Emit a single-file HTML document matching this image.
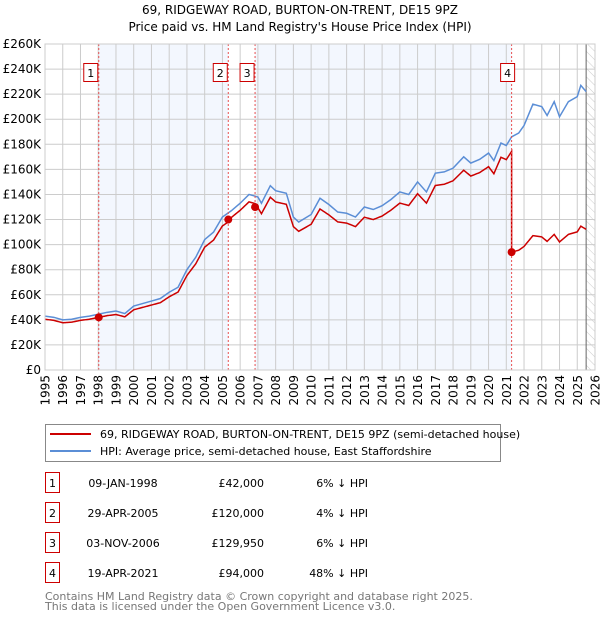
<!DOCTYPE html>
<html><head><meta charset="utf-8"><style>
body{margin:0;background:#fff;font-family:"DejaVu Sans","Liberation Sans",sans-serif;}
svg text{font-family:"DejaVu Sans","Liberation Sans",sans-serif;}
</style></head><body>
<svg id="c" width="600" height="620" xmlns="http://www.w3.org/2000/svg">
<defs><pattern id="hatch" width="6" height="6" patternUnits="userSpaceOnUse" patternTransform="rotate(-45)"><line x1="0" y1="0" x2="0" y2="6" stroke="#ccc" stroke-width="1"/></pattern></defs>
<text x="300" y="14" text-anchor="middle" font-size="12">69, RIDGEWAY ROAD, BURTON-ON-TRENT, DE15 9PZ</text>
<text x="300" y="31" text-anchor="middle" font-size="12">Price paid vs. HM Land Registry's House Price Index (HPI)</text>
<g id="plot"></g>
<g>
<rect x="45.5" y="424.5" width="455" height="37" fill="#fff" stroke="#888"/>
<line x1="50" y1="434" x2="91" y2="434" stroke="#cc0000" stroke-width="2"/>
<text x="100" y="438" font-size="11">69, RIDGEWAY ROAD, BURTON-ON-TRENT, DE15 9PZ (semi-detached house)</text>
<line x1="50" y1="451" x2="91" y2="451" stroke="#5b8ed6" stroke-width="2"/>
<text x="100" y="455" font-size="11">HPI: Average price, semi-detached house, East Staffordshire</text>
</g>
<g id="table" font-size="11"></g>
<text x="45" y="600" font-size="11" fill="#777">Contains HM Land Registry data © Crown copyright and database right 2025.</text>
<text x="45" y="610" font-size="11" fill="#777">This data is licensed under the Open Government Licence v3.0.</text>
</svg>
<script>
const hpiYears=[1995,1995.5,1996,1996.5,1997,1997.5,1998,1998.5,1999,1999.5,2000,2000.5,2001,2001.5,2002,2002.5,2003,2003.5,2004,2004.5,2005,2005.5,2006,2006.5,2007,2007.2,2007.7,2008,2008.6,2009,2009.3,2010,2010.5,2011,2011.5,2012,2012.5,2013,2013.5,2014,2014.5,2015,2015.5,2016,2016.5,2017,2017.5,2018,2018.6,2019,2019.5,2020,2020.3,2020.7,2021,2021.3,2021.7,2022,2022.5,2023,2023.3,2023.7,2024,2024.5,2025,2025.2,2025.5];
const hpiValues=[43,42,40,40.5,42,43,44.5,46,47,45,51,53,55,57,62,66,80,90,104,110,122,127,133,140,138,133,147,143,141,122,118,124,137,132,126,125,122,130,128,131,136,142,140,150,142,157,158,161,170,165,168,173,167,181,179,186,189,195,212,210,203,214,202,214,218,227,222];
const saleYears=[1998.03,2005.33,2006.84,2021.3];
const salePrices=[42,120,129.95,94];
const saleLabels=["1","2","3","4"];
const saleDates=["09-JAN-1998","29-APR-2005","03-NOV-2006","19-APR-2021"];
const salePriceText=["£42,000","£120,000","£129,950","£94,000"];
const salePct=["6% ↓ HPI","4% ↓ HPI","6% ↓ HPI","48% ↓ HPI"];
const yTicks=[0,20,40,60,80,100,120,140,160,180,200,220,240,260];
const xTicks=[1995,1996,1997,1998,1999,2000,2001,2002,2003,2004,2005,2006,2007,2008,2009,2010,2011,2012,2013,2014,2015,2016,2017,2018,2019,2020,2021,2022,2023,2024,2025,2026];

const X0=45,X1=595,Y0=370,Y1=44;
const xs=y=>X0+(y-1995)/(2026-1995)*(X1-X0);
const ys=v=>Y0-v/260*(Y0-Y1);
const NS="http://www.w3.org/2000/svg";
function mk(tag,attrs,parent){const e=document.createElementNS(NS,tag);for(const k in attrs)e.setAttribute(k,attrs[k]);parent.appendChild(e);return e;}
function hpiAt(t){if(t<=hpiYears[0])return hpiValues[0];for(let i=1;i<hpiYears.length;i++){if(t<=hpiYears[i]){const f=(t-hpiYears[i-1])/(hpiYears[i]-hpiYears[i-1]);return hpiValues[i-1]+f*(hpiValues[i]-hpiValues[i-1]);}}return hpiValues[hpiValues.length-1];}
const P=document.getElementById('plot');
const bands=[[saleYears[0],saleYears[1]],[saleYears[2],saleYears[3]]];
bands.forEach((b,i)=>{const r=mk('rect',{x:xs(b[0]),y:Y1,width:xs(b[1])-xs(b[0]),height:Y0-Y1,fill:'#eef3fd',opacity:0.7},P);

});
const hz=mk('rect',{x:xs(2025.5),y:Y1,width:X1-xs(2025.5),height:Y0-Y1,fill:'url(#hatch)'},P);


yTicks.forEach(v=>{mk('line',{x1:X0,x2:X1,y1:ys(v),y2:ys(v),stroke:'#ccc'},P);
const t=mk('text',{x:X0-4,y:ys(v)+4,'text-anchor':'end','font-size':12},P);t.textContent='£'+(v?v+'K':'0');

});
xTicks.forEach(y=>{mk('line',{x1:xs(y),x2:xs(y),y1:Y1,y2:Y0,stroke:'#ccc'},P);
const t=mk('text',{x:0,y:0,'text-anchor':'end','font-size':12,transform:'translate('+(xs(y)+4.5)+',375) rotate(-90)'},P);t.textContent=y;

});
mk('line',{x1:xs(2025.5),x2:xs(2025.5),y1:Y1,y2:Y0,stroke:'#666'},P);
const pts=hpiYears.map((y,i)=>xs(y)+','+ys(hpiValues[i])).join(' ');
const hl=mk('polyline',{points:pts,fill:'none',stroke:'#5b8ed6','stroke-width':1.5},P);


const redPts=[];
for(let t=1995;t<=2025.5;t+=0.05){let s=0;for(let i=0;i<saleYears.length;i++)if(t>=saleYears[i])s=i;
redPts.push(xs(t)+','+ys(salePrices[s]*hpiAt(t)/hpiAt(saleYears[s])));
const nx=t+0.05;for(let i=0;i<saleYears.length;i++)if(t<saleYears[i]&&nx>=saleYears[i]){const v=salePrices[i];redPts.push(xs(saleYears[i])+','+ys(salePrices[Math.max(i-1,0)]*hpiAt(saleYears[i])/hpiAt(saleYears[Math.max(i-1,0)])));redPts.push(xs(saleYears[i])+','+ys(v));}}
const rl=mk('polyline',{points:redPts.join(' '),fill:'none',stroke:'#cc0000','stroke-width':1.5},P);


saleYears.forEach((y,i)=>{
const l=mk('line',{x1:xs(y),x2:xs(y),y1:Y1,y2:Y0,stroke:'#e85050','stroke-dasharray':'2,2'},P);


const c=mk('circle',{cx:xs(y),cy:ys(salePrices[i]),r:4,fill:'#cc0000'},P);


const bx=xs(y)-(i==3?0:4)-10;
const r=mk('rect',{x:bx-1,y:63.5,width:14,height:18,fill:'#fff',stroke:'#cc0000'},P);


const t=mk('text',{x:bx+6,y:77,'text-anchor':'middle','font-size':11},P);t.textContent=saleLabels[i];});
mk('rect',{x:X0,y:Y1,width:X1-X0,height:Y0-Y1,fill:'none',stroke:'#ccc'},P);
const T=document.getElementById('table');
saleYears.forEach((y,i)=>{const cy=483+i*30;
const r=mk('rect',{x:45.5,y:cy-10.5,width:14,height:20,fill:'#fff',stroke:'#cc0000'},T);


const a=mk('text',{x:52.5,y:cy+4,'text-anchor':'middle'},T);a.textContent=saleLabels[i];
const d=mk('text',{x:123,y:cy+4,'text-anchor':'middle'},T);d.textContent=saleDates[i];


const p=mk('text',{x:264,y:cy+4,'text-anchor':'end'},T);p.textContent=salePriceText[i];


const q=mk('text',{x:368,y:cy+4,'text-anchor':'end'},T);q.textContent=salePct[i];

});
</script>
</body></html>
